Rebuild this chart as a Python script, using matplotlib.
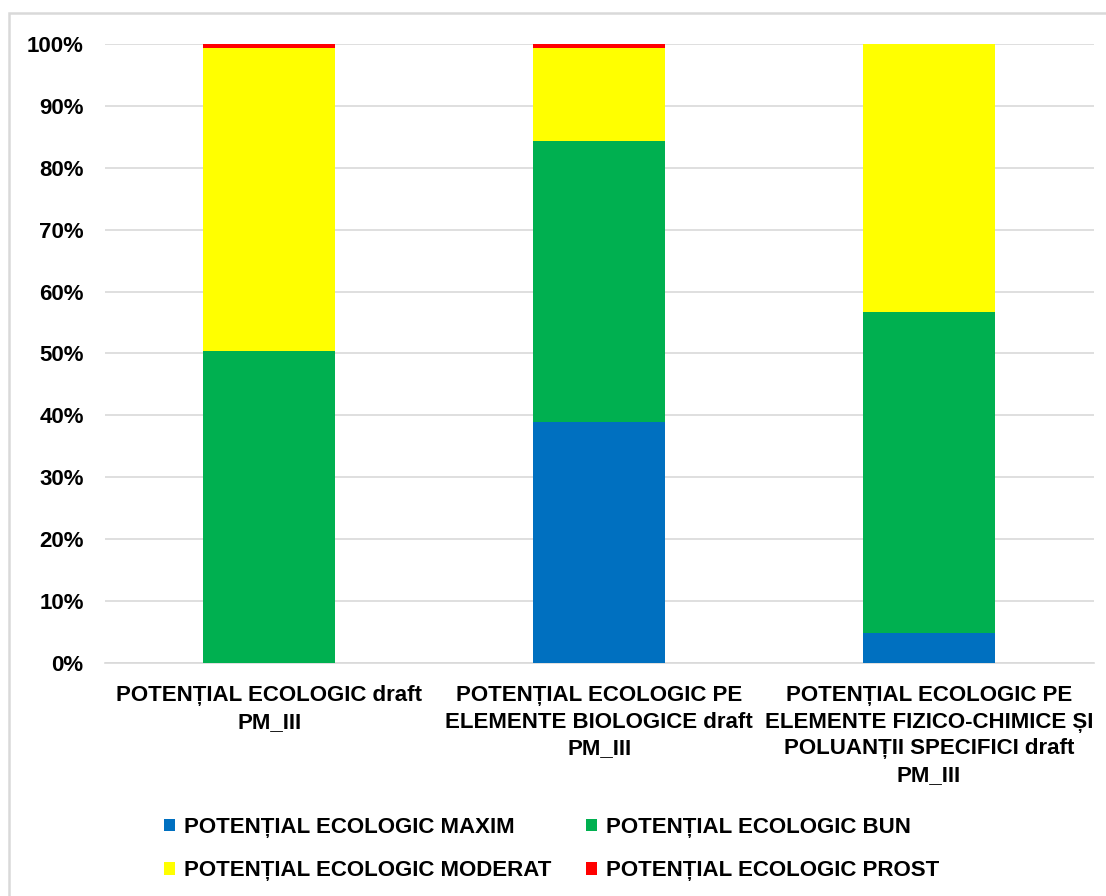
import matplotlib
matplotlib.use("Agg")
import matplotlib.pyplot as plt
from matplotlib.patches import Patch, Rectangle
from matplotlib.ticker import PercentFormatter

plt.rcParams['font.family'] = ['Liberation Sans', 'DejaVu Sans']
plt.rcParams['font.weight'] = 'bold'

categories = [
    "POTENȚIAL ECOLOGIC draft\nPM_III",
    "POTENȚIAL ECOLOGIC PE\nELEMENTE BIOLOGICE draft\nPM_III",
    "POTENȚIAL ECOLOGIC PE\nELEMENTE FIZICO-CHIMICE ȘI\nPOLUANȚII SPECIFICI draft\nPM_III",
]
series_names = [
    "POTENȚIAL ECOLOGIC MAXIM",
    "POTENȚIAL ECOLOGIC BUN",
    "POTENȚIAL ECOLOGIC MODERAT",
    "POTENȚIAL ECOLOGIC PROST",
]
maxim = [0.0, 38.9, 4.9]
bun = [50.4, 45.4, 51.8]
moderat = [48.9, 15.0, 43.3]
prost = [0.7, 0.7, 0.0]
series_values = [maxim, bun, moderat, prost]
colors = ["#0070C0", "#00B050", "#FFFF00", "#FF0000"]

fig = plt.figure(figsize=(11.06, 8.96), dpi=100)
ax = fig.add_axes([0.0945, 0.26, 0.8945, 0.691])

x = list(range(len(categories)))
bottom = [0.0] * len(categories)
for vals, col, name in zip(series_values, colors, series_names):
    ax.bar(x, vals, width=0.4, bottom=bottom, color=col, label=name, zorder=3)
    bottom = [b + v for b, v in zip(bottom, vals)]

ax.set_xlim(-0.5, len(categories) - 0.5)
ax.set_ylim(0, 100)
ax.set_yticks(range(0, 101, 10))
ax.yaxis.set_major_formatter(PercentFormatter(decimals=0))
ax.grid(axis='y', color='#d9d9d9', linewidth=1.2, zorder=0)
for s in ['left', 'right', 'top']:
    ax.spines[s].set_visible(False)
ax.spines['bottom'].set_color('#d9d9d9')
ax.spines['bottom'].set_linewidth(1.2)
ax.tick_params(axis='both', length=0, labelsize=16)
ax.tick_params(axis='y', pad=15)
ax.tick_params(axis='x', pad=16)
ax.set_xticks(x)
ax.set_xticklabels(categories, fontsize=16, linespacing=1.35, va='top')

# legend filled column-wise: order so rows read MAXIM, BUN / MODERAT, PROST
order = [0, 2, 1, 3]
handles = [Patch(facecolor=colors[i], edgecolor='none') for i in order]
labels = [series_names[i] for i in order]
fig.legend(handles, labels, ncol=2, loc='center', bbox_to_anchor=(0.4985, 0.0525),
           frameon=False, fontsize=16, handlelength=0.5, handleheight=0.5,
           handletextpad=0.4, columnspacing=1.55, labelspacing=1.0)

fig.patches.append(Rectangle((9 / 1106, -0.05), 1.2, (896 - 13) / 896 + 0.05,
                             transform=fig.transFigure, fill=False,
                             edgecolor='#d9d9d9', linewidth=1.8))

fig.savefig("out.png", dpi=100)
